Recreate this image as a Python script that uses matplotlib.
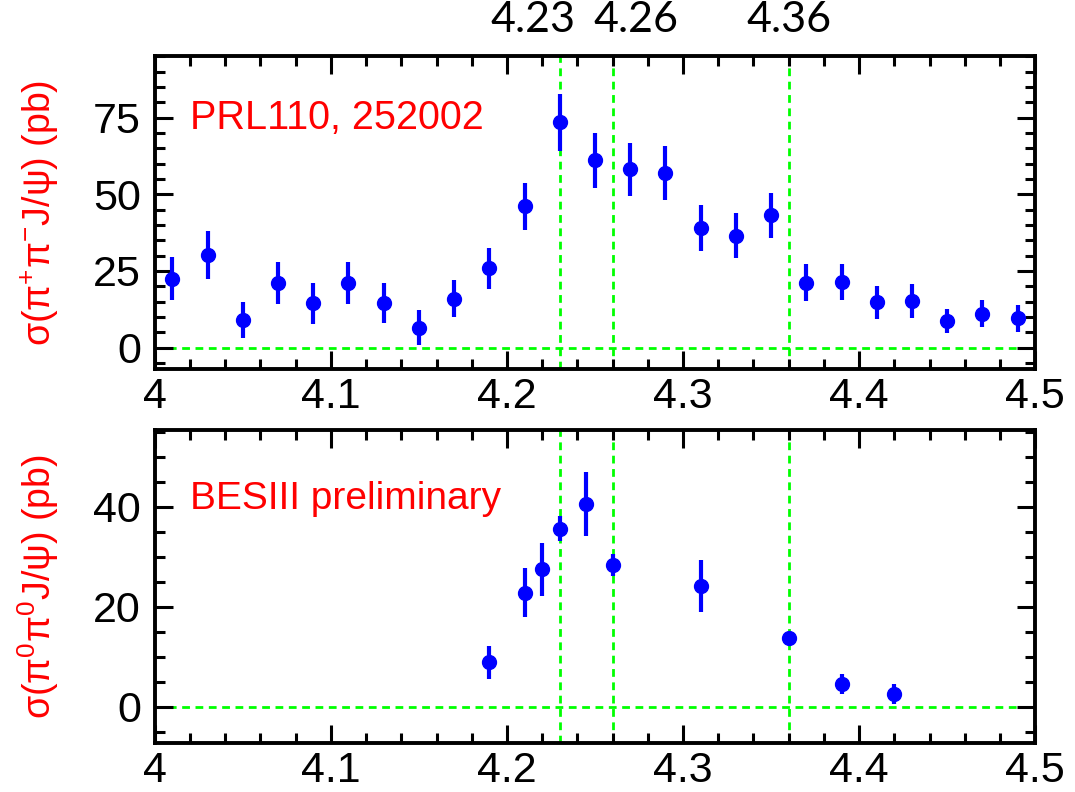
import matplotlib.pyplot as plt
from matplotlib.ticker import MultipleLocator, FuncFormatter

plt.rcParams['font.family'] = ['Liberation Sans', 'DejaVu Sans']
plt.rcParams['mathtext.fontset'] = 'custom'
plt.rcParams['mathtext.rm'] = 'Liberation Sans'
plt.rcParams['mathtext.it'] = 'Liberation Sans:italic'

# pi+ pi- J/psi cross section (PRL110, 252002)
e_pm = [4.01, 4.03, 4.05, 4.07, 4.09, 4.11, 4.13, 4.15, 4.17, 4.19, 4.21,
        4.23, 4.25, 4.27, 4.29, 4.31, 4.33, 4.35, 4.37, 4.39, 4.41, 4.43,
        4.45, 4.47, 4.49]
xs_pm = [22.5, 30.1, 9.0, 21.1, 14.4, 21.1, 14.6, 6.5, 16.0, 25.8, 46.1,
         73.4, 61.1, 58.1, 56.8, 39.0, 36.5, 43.1, 21.1, 21.4, 14.8, 15.2,
         8.7, 11.1, 9.5]
err_pm = [7.0, 7.8, 6.0, 6.8, 6.6, 6.9, 6.5, 5.8, 6.0, 6.8, 7.7,
          9.3, 9.0, 8.6, 8.8, 7.4, 7.4, 7.4, 6.0, 6.0, 5.4, 5.7,
          4.0, 4.4, 4.5]

# pi0 pi0 J/psi cross section (BESIII preliminary)
e_00 = [4.19, 4.21, 4.22, 4.23, 4.245, 4.26, 4.31, 4.36, 4.39, 4.42]
xs_00 = [8.9, 22.8, 27.5, 35.6, 40.5, 28.3, 24.2, 13.8, 4.6, 2.6]
err_00 = [3.3, 4.9, 5.3, 2.5, 6.4, 2.2, 5.2, 1.1, 2.0, 2.0]

marked_energies = [4.23, 4.26, 4.36]
marked_text = ['4.23', '4.26', '4.36']
marked_text_x = [4.215, 4.273, 4.36]

green = '#00ff00'
blue = '#0000ff'
red = '#ff0000'

fig = plt.figure(figsize=(10.75, 7.92), dpi=100)
ax1 = fig.add_axes([0.144, 0.534, 0.819, 0.395])
ax2 = fig.add_axes([0.144, 0.062, 0.819, 0.395])


def style_axis(ax, ylim, ymajor):
    ax.set_xlim(4.0, 4.5)
    ax.set_ylim(*ylim)
    ax.xaxis.set_major_locator(MultipleLocator(0.1))
    ax.xaxis.set_minor_locator(MultipleLocator(0.02))
    ax.yaxis.set_major_locator(MultipleLocator(ymajor))
    ax.yaxis.set_minor_locator(MultipleLocator(5))
    ax.xaxis.set_major_formatter(FuncFormatter(lambda v, p: f'{v:g}'))
    ax.tick_params(which='both', direction='in', top=True, right=True,
                   width=2.2, color='black')
    ax.tick_params(which='major', length=13, labelsize=31)
    ax.tick_params(axis='x', which='major', pad=6)
    ax.tick_params(axis='y', which='major', pad=10)
    ax.tick_params(which='minor', length=7)
    for s in ax.spines.values():
        s.set_linewidth(2.8)
    ax.axhline(0, color=green, lw=2.0, dashes=(2.8, 2.0), zorder=1)
    for e in marked_energies:
        ax.axvline(e, color=green, lw=2.0, dashes=(2.8, 2.0), zorder=1)


style_axis(ax1, (-7, 95), 25)
style_axis(ax2, (-7.2, 55.3), 20)

ax1.errorbar(e_pm, xs_pm, yerr=err_pm, fmt='o', color=blue, ms=10,
             elinewidth=3, capsize=0, zorder=3)
ax2.errorbar(e_00, xs_00, yerr=err_00, fmt='o', color=blue, ms=10,
             elinewidth=3, capsize=0, zorder=3)

ax1.text(4.02, 75, 'PRL110, 252002', color=red, fontsize=28.5, va='center')
ax2.text(4.02, 41.5, 'BESIII preliminary', color=red, fontsize=28, va='center')

ax1.set_ylabel(r'σ(π$^{+}$π$^{-}$J/ψ) (pb)', color=red, fontsize=27)
ax2.set_ylabel(r'σ(π$^{0}$π$^{0}$J/ψ) (pb)', color=red, fontsize=27)
ax1.yaxis.set_label_coords(-0.106, 0.5)
ax2.yaxis.set_label_coords(-0.106, 0.5)

for x, t in zip(marked_text_x, marked_text):
    ax1.text(x, 1.055, t, transform=ax1.get_xaxis_transform(), ha='center',
             va='bottom', fontsize=31, family=['Lato', 'DejaVu Sans'])

fig.savefig('out.png', dpi=100)
